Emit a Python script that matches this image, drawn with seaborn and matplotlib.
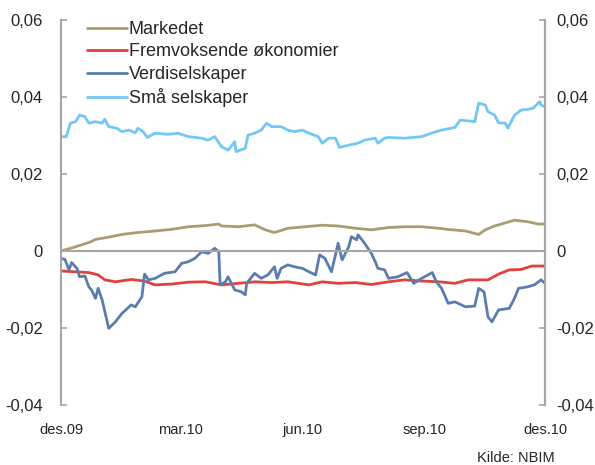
import seaborn as sns
import pandas as pd
import matplotlib.pyplot as plt
from matplotlib.ticker import FuncFormatter, FixedLocator, FixedFormatter

# day offsets from 1 Dec 2009 and relative return
mkt_days = [0, 11, 21, 26, 36, 46, 58, 71, 83, 96, 109, 119, 121, 134, 146, 154, 161, 171,
            184, 197, 209, 222, 234, 247, 259, 272, 285, 292, 305, 315, 320, 327, 342, 352, 360, 365]
mkt_vals = [0.0, 0.0011, 0.0022, 0.003, 0.0036, 0.0043, 0.0048, 0.0052, 0.0056, 0.0063, 0.0066,
            0.007, 0.0065, 0.0063, 0.0068, 0.0055, 0.0048, 0.0059, 0.0063, 0.0067, 0.0065, 0.0059,
            0.0055, 0.0061, 0.0063, 0.0063, 0.0059, 0.0056, 0.0052, 0.0043, 0.0055, 0.0065,
            0.008, 0.0076, 0.007, 0.007]

em_days = [0, 11, 21, 28, 33, 41, 53, 63, 71, 83, 96, 109, 121, 134, 146, 159, 171, 187, 197,
           209, 222, 234, 247, 259, 272, 285, 297, 307, 322, 330, 338, 347, 355, 365]
em_vals = [-0.0052, -0.0054, -0.0056, -0.0062, -0.0075, -0.008, -0.0074, -0.0078, -0.0088,
           -0.0086, -0.0081, -0.008, -0.0088, -0.0084, -0.008, -0.0082, -0.008, -0.0088, -0.008,
           -0.0084, -0.0082, -0.0087, -0.008, -0.0075, -0.0078, -0.008, -0.0084, -0.0075,
           -0.0075, -0.006, -0.0049, -0.0048, -0.0039, -0.0039]

val_days = [0, 3, 6, 8, 12, 14, 18, 21, 23, 26, 28, 31, 36, 41, 46, 53, 56, 61, 63, 66, 71, 78,
            86, 91, 96, 101, 106, 111, 116, 119, 120, 124, 126, 131, 136, 139, 140, 146, 151, 156,
            161, 163, 166, 171, 176, 182, 187, 192, 195, 199, 204, 209, 212, 217, 219, 223, 224,
            229, 234, 237, 239, 244, 247, 254, 261, 266, 272, 280, 283, 287, 292, 297, 305, 312,
            315, 319, 322, 325, 330, 338, 342, 345, 352, 357, 362, 365]
val_vals = [-0.0019, -0.0022, -0.0049, -0.003, -0.0045, -0.0067, -0.0065, -0.0093, -0.0101,
            -0.0123, -0.0097, -0.0127, -0.0201, -0.0184, -0.0162, -0.014, -0.0145, -0.0119,
            -0.006, -0.0075, -0.0071, -0.0058, -0.0054, -0.0032, -0.0028, -0.0019, -0.0002,
            -0.0006, 0.0007, -0.0002, -0.0088, -0.008, -0.0067, -0.0101, -0.0106, -0.0114,
            -0.0084, -0.0058, -0.0071, -0.0062, -0.0041, -0.0071, -0.0045, -0.0036, -0.0041,
            -0.0045, -0.0054, -0.0062, -0.001, -0.0019, -0.0054, 0.002, -0.0023, 0.0011, 0.0037,
            0.0029, 0.0042, 0.002, -0.0006, -0.0028, -0.0045, -0.0049, -0.0071, -0.0067, -0.0056,
            -0.0084, -0.0071, -0.0056, -0.008, -0.0097, -0.0136, -0.0132, -0.0145, -0.0143,
            -0.0097, -0.0106, -0.0171, -0.0184, -0.0153, -0.0149, -0.0123, -0.0097, -0.0093,
            -0.0088, -0.0075, -0.0084]

small_days = [0, 4, 7, 11, 14, 18, 21, 26, 31, 33, 36, 42, 46, 51, 56, 58, 62, 65, 71, 81, 88,
              96, 106, 111, 116, 121, 126, 129, 131, 132, 139, 141, 146, 151, 155, 159, 166, 171,
              176, 182, 187, 194, 197, 202, 207, 210, 217, 224, 229, 237, 239, 244, 247, 259,
              272, 280, 287, 297, 301, 312, 315, 320, 322, 327, 330, 335, 337, 342, 347, 352,
              356, 361, 362, 365]
small_vals = [0.0297, 0.0297, 0.0332, 0.0336, 0.0353, 0.0349, 0.0332, 0.0336, 0.0332, 0.0342,
              0.0323, 0.0319, 0.031, 0.0314, 0.0307, 0.0319, 0.031, 0.0295, 0.0306, 0.0303,
              0.0306, 0.0297, 0.0293, 0.0288, 0.0297, 0.0271, 0.0262, 0.0275, 0.0284, 0.0258,
              0.0267, 0.0301, 0.0306, 0.0314, 0.0332, 0.0323, 0.0323, 0.0314, 0.031, 0.0314,
              0.0306, 0.0297, 0.028, 0.0293, 0.0293, 0.0269, 0.0275, 0.028, 0.0288, 0.0293,
              0.028, 0.0293, 0.0295, 0.0293, 0.0297, 0.0307, 0.0314, 0.0321, 0.034, 0.0336,
              0.0384, 0.0379, 0.0362, 0.0353, 0.0333, 0.0332, 0.0319, 0.0353, 0.0366, 0.0368,
              0.0371, 0.0388, 0.0379, 0.0375]

names = ["Markedet", "Fremvoksende økonomier", "Verdiselskaper", "Små selskaper"]
colors = ["#A89E72", "#E2403A", "#5B7DAE", "#72C8F5"]
tick_dates = ["2009-12-01", "2010-03-01", "2010-06-01", "2010-09-01", "2010-12-01"]
tick_labels = ["des.09", "mar.10", "jun.10", "sep.10", "des.10"]

start = pd.Timestamp("2009-12-01")
frames = []
for name, days, vals in zip(names, [mkt_days, em_days, val_days, small_days],
                            [mkt_vals, em_vals, val_vals, small_vals]):
    frames.append(pd.DataFrame({"date": start + pd.to_timedelta(days, unit="D"),
                                "value": vals, "serie": name}))
df = pd.concat(frames, ignore_index=True)

sns.set_style("white")
plt.rcParams["font.family"] = ["Liberation Sans", "DejaVu Sans"]

fig = plt.figure(figsize=(5.95, 4.65), dpi=100)
ax = fig.add_axes([61 / 595, 1 - 405 / 465, 484 / 595, 385 / 465])
sns.lineplot(data=df, x="date", y="value", hue="serie", hue_order=names,
             palette=dict(zip(names, colors)), estimator=None, linewidth=2, ax=ax)

gray = "#A6A6A6"
ax.set_ylim(-0.04, 0.06)
ax.set_xlim(pd.Timestamp(tick_dates[0]), pd.Timestamp(tick_dates[-1]))
yt = [-0.04, -0.02, 0, 0.02, 0.04, 0.06]
fmt = FuncFormatter(lambda v, p: "0" if abs(v) < 1e-9 else f"{v:.2f}".replace(".", ","))
ax.set_yticks(yt)
ax.yaxis.set_major_formatter(fmt)
epoch = pd.Timestamp("1970-01-01")
ax.xaxis.set_major_locator(FixedLocator([(pd.Timestamp(d) - epoch).days for d in tick_dates]))
ax.xaxis.set_major_formatter(FixedFormatter(tick_labels))
ax.set_xlabel("")
ax.set_ylabel("")

ax.spines["top"].set_visible(False)
ax.spines["right"].set_color(gray)
ax.spines["left"].set_color(gray)
ax.spines["bottom"].set_position(("data", 0))
ax.spines["bottom"].set_color(gray)
for s in ax.spines.values():
    s.set_linewidth(1.5)
ax.tick_params(axis="y", direction="in", length=4, color=gray, width=1.2, labelsize=12, pad=13)
ax.tick_params(axis="x", direction="inout", length=6, color=gray, width=1.2, labelsize=10.5, pad=121)

ax2 = ax.twinx()
ax2.set_ylim(ax.get_ylim())
ax2.set_yticks(yt)
ax2.yaxis.set_major_formatter(fmt)
for s in ["top", "bottom", "left"]:
    ax2.spines[s].set_visible(False)
ax2.spines["right"].set_color(gray)
ax2.spines["right"].set_linewidth(1.5)
ax2.tick_params(axis="y", direction="in", length=4, color=gray, width=1.2, labelsize=12, pad=8)

handles, labels = ax.get_legend_handles_labels()
ax.legend(handles, labels, loc="upper left", bbox_to_anchor=(87 / 595, 1 - 21 / 465),
          bbox_transform=fig.transFigure, frameon=False, fontsize=13, handlelength=2.2,
          handletextpad=0.1, labelspacing=0.3, borderpad=0, borderaxespad=0)

fig.text(555 / 595, 1 - 458 / 465, "Kilde: NBIM", ha="right", va="center", fontsize=10.5)

fig.savefig("out.png", dpi=100)
